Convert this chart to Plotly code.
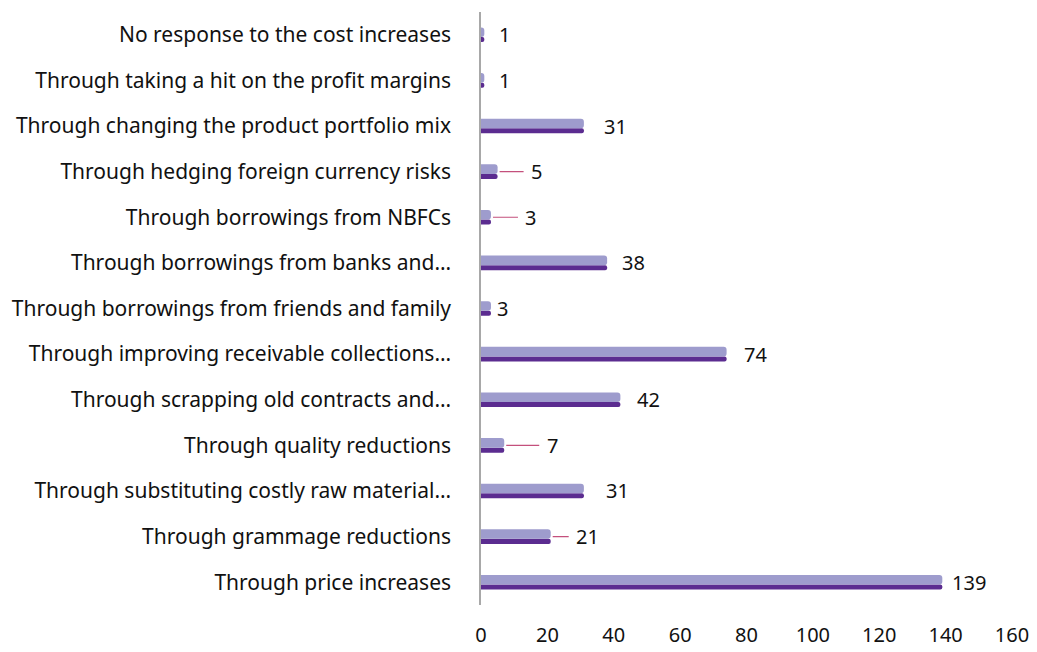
import plotly.graph_objects as go

# Responses, listed bottom to top as they appear on the axis
categories = [
    "Through price increases",
    "Through grammage reductions",
    "Through substituting costly raw material…",
    "Through quality reductions",
    "Through scrapping old contracts and…",
    "Through improving receivable collections…",
    "Through borrowings from friends and family",
    "Through borrowings from banks and…",
    "Through borrowings from NBFCs",
    "Through hedging foreign currency risks",
    "Through changing the product portfolio mix",
    "Through taking a hit on the profit margins",
    "No response to the cost increases",
]
values = [139, 21, 31, 7, 42, 74, 3, 38, 3, 5, 31, 1, 1]

x_ticks = [0, 20, 40, 60, 80, 100, 120, 140, 160]

# label placement (pixels to the right of the bar end) and whether a leader line is drawn
label_shift = [27, 37, 34, 48, 28, 29, 12, 26, 40, 39, 32, 20, 20]
leader = [False, True, False, True, False, False, False, False, True, True, False, False, False]

LIGHT = "#9e9ccd"
DARK = "#5b2c90"
FONT = "Noto Sans"
TXT = "#111111"

fig = go.Figure()
# darker lower band of each cylinder
fig.add_trace(go.Bar(
    y=categories, x=values, orientation="h",
    offset=-0.16, width=0.11,
    marker=dict(color=DARK, line=dict(width=0), cornerradius=2),
    hoverinfo="skip", showlegend=False,
))
# lighter upper band
fig.add_trace(go.Bar(
    y=categories, x=values, orientation="h",
    offset=-0.05, width=0.21,
    marker=dict(color=LIGHT, line=dict(width=0), cornerradius=3),
    hoverinfo="skip", showlegend=False,
))

annotations = []
for cat, v, sh, ld in zip(categories, values, label_shift, leader):
    if ld:
        annotations.append(dict(
            x=v, y=cat, xref="x", yref="y",
            text=str(v), showarrow=True, arrowhead=0, arrowwidth=1.2,
            arrowcolor="#c4507c", ax=sh, ay=0, standoff=2, borderpad=7,
            font=dict(family=FONT, size=20, color=TXT),
        ))
    else:
        annotations.append(dict(
            x=v, y=cat, xref="x", yref="y",
            text=str(v), showarrow=False, xshift=sh, xanchor="center",
            font=dict(family=FONT, size=20, color=TXT),
        ))

fig.update_layout(
    width=1037, height=652,
    margin=dict(l=481, r=25, t=12, b=47),
    paper_bgcolor="white", plot_bgcolor="white",
    barmode="overlay",
    font=dict(family=FONT, size=20, color=TXT),
    annotations=annotations,
    xaxis=dict(
        range=[0, 160], tickvals=x_ticks, showgrid=False, zeroline=False,
        showline=False, ticks="", ticklabelstandoff=16, automargin=False,
        tickfont=dict(family=FONT, size=20, color=TXT),
    ),
    yaxis=dict(
        categoryorder="array", categoryarray=categories,
        showgrid=False, zeroline=False, showline=True,
        linecolor="#a8a8a8", linewidth=1.5, ticks="",
        ticklabelstandoff=24, automargin=False,
        tickfont=dict(family=FONT, size=21, color=TXT),
    ),
)

fig.write_html("out.html")
